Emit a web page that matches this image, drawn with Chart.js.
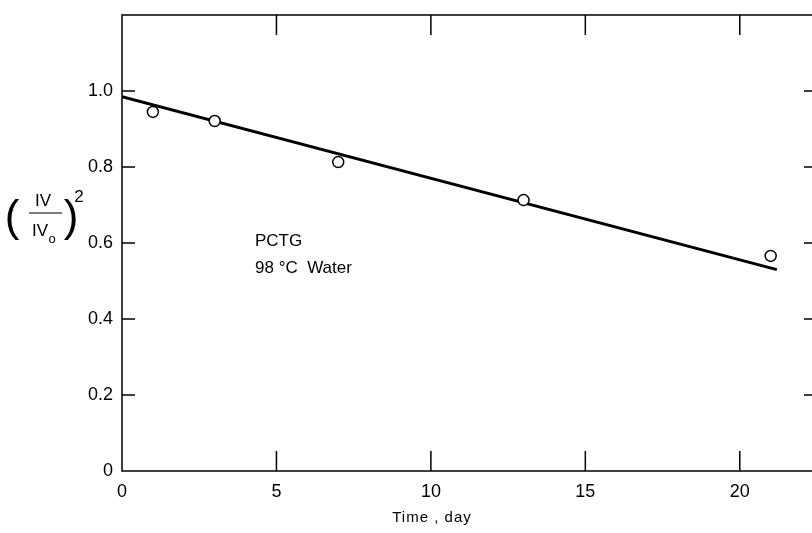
<!DOCTYPE html>
<html>
<head>
<meta charset="utf-8">
<script src="https://cdn.jsdelivr.net/npm/chart.js@4"></script>
<style>
html, body { margin: 0; padding: 0; background: #fff; overflow: hidden; }
#wrap { width: 830px; height: 533px; }
</style>
</head>
<body>
<div id="wrap"><canvas id="c"></canvas></div>
<script>
// measured points, (IV/IVo)^2 against time in days
var days = [1, 3, 7, 13, 21]
var ratio = [0.945, 0.921, 0.813, 0.713, 0.566]
// fitted straight line, end points
var fitDays = [0, 21.2]
var fitRatio = [0.985, 0.53]
var xTicks = [0, 5, 10, 15, 20]
var yTicks = [0, 0.2, 0.4, 0.6, 0.8, 1.0]

var font = 'Liberation Sans, Arial, sans-serif'

function pairs(xs, ys) {
	var p = []
	for (var i = 0; i < xs.length; i++) {
		p.push({x: xs[i], y: ys[i]})
	}
	return p
}

// frame, inward tick marks and the free texts
var decor = {
	id: 'decor',
	afterDatasetsDraw: function(chart) {
		var ctx = chart.ctx, a = chart.chartArea
		var sx = chart.scales.x, sy = chart.scales.y
		ctx.save()
		ctx.strokeStyle = '#000'
		ctx.lineWidth = 1.5
		ctx.strokeRect(a.left, a.top, a.right - a.left, a.bottom - a.top)
		ctx.beginPath()
		xTicks.forEach(function(v) {
			if (v === 0) return
			var px = sx.getPixelForValue(v)
			ctx.moveTo(px, a.bottom); ctx.lineTo(px, a.bottom - 20)
			ctx.moveTo(px, a.top); ctx.lineTo(px, a.top + 20)
		})
		yTicks.forEach(function(v) {
			if (v === 0) return
			var py = sy.getPixelForValue(v)
			ctx.moveTo(a.left, py); ctx.lineTo(a.left + 13, py)
			ctx.moveTo(a.right, py); ctx.lineTo(a.right - 13, py)
		})
		ctx.stroke()

		ctx.fillStyle = '#000'
		ctx.font = '17px ' + font
		ctx.textAlign = 'left'
		ctx.textBaseline = 'middle'
		ctx.fillText('PCTG', 255, 241)
		ctx.fillText('98 \u00B0C  Water', 255, 268)

		// x title
		ctx.textAlign = 'center'
		ctx.font = '15px ' + font
		ctx.letterSpacing = '1px'
		ctx.fillText('Time , day', 432, 518)
		ctx.letterSpacing = '0px'

		// y title: (IV / IVo)^2
		ctx.font = '17px ' + font
		ctx.fillText('IV', 43, 201)
		ctx.fillText('IV', 40, 231)
		ctx.font = '13px ' + font
		ctx.fillText('o', 52, 239)
		ctx.beginPath()
		ctx.lineWidth = 1.2
		ctx.moveTo(29, 213); ctx.lineTo(62, 213)
		ctx.stroke()
		ctx.font = '200 44px ' + font
		ctx.fillText('(', 12, 219)
		ctx.fillText(')', 71, 219)
		ctx.font = '17px ' + font
		ctx.fillText('2', 79, 197)
		ctx.restore()
	}
}

new Chart(document.getElementById('c').getContext('2d'), {
	type: 'scatter',
	data: {
		datasets: [{
			label: 'data',
			data: pairs(days, ratio),
			pointRadius: 5.5,
			pointBorderWidth: 1.5,
			pointBorderColor: '#000',
			pointBackgroundColor: '#fff',
			order: 1
		}, {
			label: 'fit',
			type: 'line',
			data: pairs(fitDays, fitRatio),
			borderColor: '#000',
			borderWidth: 3,
			pointRadius: 0,
			fill: false,
			order: 2
		}]
	},
	options: {
		responsive: true,
		maintainAspectRatio: false,
		animation: false,
		layout: { padding: { top: 15, right: 13, left: 0, bottom: 0 } },
		plugins: { legend: { display: false }, tooltip: { enabled: false } },
		scales: {
			x: {
				type: 'linear',
				min: 0,
				max: 22.5,
				afterFit: function(s) { s.height = 62 },
				afterBuildTicks: function(s) {
					s.ticks = xTicks.map(function(v) { return {value: v} })
				},
				grid: { display: false },
				border: { display: false },
				ticks: {
					color: '#000',
					padding: 2,
					font: { family: font, size: 18 },
					callback: function(v) { return String(v) }
				}
			},
			y: {
				min: 0,
				max: 1.2,
				afterFit: function(s) { s.width = 122 },
				afterBuildTicks: function(s) {
					s.ticks = yTicks.map(function(v) { return {value: v} })
				},
				grid: { display: false },
				border: { display: false },
				ticks: {
					color: '#000',
					padding: 1,
					font: { family: font, size: 18 },
					callback: function(v) { return v === 0 ? '0' : v.toFixed(1) }
				}
			}
		}
	},
	plugins: [decor]
});
</script>
</body>
</html>
